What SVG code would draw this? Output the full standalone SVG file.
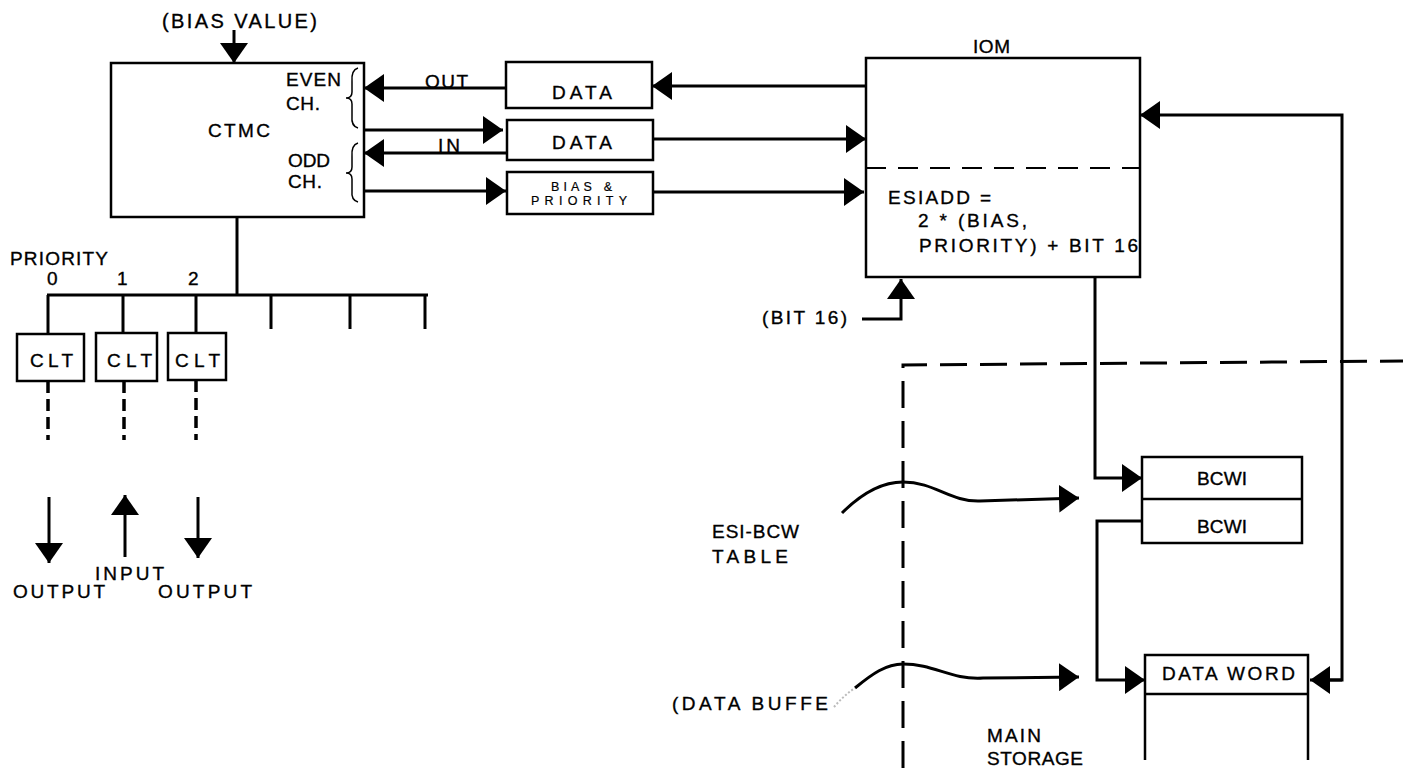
<svg xmlns="http://www.w3.org/2000/svg" width="1403" height="768" viewBox="0 0 1403 768">
<style>
.box{fill:none;stroke:#000;stroke-width:2.5}
.ln{fill:none;stroke:#000;stroke-width:3}
.thin{fill:none;stroke:#000;stroke-width:1.5}
.dash{fill:none;stroke:#000;stroke-width:3;stroke-dasharray:27 13}
.cdash{fill:none;stroke:#000;stroke-width:3.5;stroke-dasharray:12 6}
text{font-family:"Liberation Sans",Arial,sans-serif;font-size:19px;fill:#000;stroke:#000;stroke-width:0.35}
.sm{font-size:12.5px;stroke-width:0.2}
.big{font-size:20px}
</style>
<defs>
<marker id="ah" viewBox="0 0 20 28" refX="20" refY="14" markerWidth="20" markerHeight="28" markerUnits="userSpaceOnUse" orient="auto">
<path d="M0,0 L20,14 L0,28 Z" fill="#000"/>
</marker>
</defs>
<rect width="1403" height="768" fill="#fff"/>

<g id="ctmc">
<rect class="box" x="111" y="63" width="253" height="154"/>
<text x="208" y="137" textLength="62" lengthAdjust="spacing">CTMC</text>
<text x="286" y="86" textLength="55" lengthAdjust="spacing">EVEN</text>
<text x="286" y="110" textLength="34" lengthAdjust="spacing">CH.</text>
<text x="288" y="167" textLength="42" lengthAdjust="spacing">ODD</text>
<text x="288" y="188" textLength="34" lengthAdjust="spacing">CH.</text>
<path class="thin" d="M358,68 Q351,70 352,82 L352,92 Q352,98 346,98 Q352,98 352,104 L352,116 Q351,126 358,128"/>
<path class="thin" d="M358,143 Q351,145 352,157 L352,167 Q352,173 346,173 Q352,173 352,179 L352,191 Q351,200 358,202"/>
</g>

<g id="bias-value">
<text class="big" x="162" y="28" textLength="155" lengthAdjust="spacing">(BIAS VALUE)</text>
</g>

<g id="data-out">
<rect class="box" x="506" y="62" width="146" height="46"/>
<text x="552" y="99" textLength="60" lengthAdjust="spacing">DATA</text>
</g>
<g id="data-in">
<rect class="box" x="507" y="120" width="146" height="40"/>
<text x="552" y="149" textLength="60" lengthAdjust="spacing">DATA</text>
</g>
<g id="bias-priority">
<rect class="box" x="507" y="172" width="146" height="42"/>
<text class="sm" x="551" y="191" textLength="61" lengthAdjust="spacing">BIAS &amp;</text>
<text class="sm" x="531" y="205" textLength="96" lengthAdjust="spacing">PRIORITY</text>
</g>

<g id="iom">
<rect class="box" x="866" y="58" width="274" height="219"/>
<line x1="866" y1="168" x2="1140" y2="168" style="stroke:#000;stroke-width:2;stroke-dasharray:20 12"/>
<text x="973" y="53" textLength="37" lengthAdjust="spacing">IOM</text>
<text x="888" y="204" textLength="103" lengthAdjust="spacing">ESIADD =</text>
<text x="918" y="227" textLength="109" lengthAdjust="spacing">2 * (BIAS,</text>
<text x="919" y="252" textLength="219" lengthAdjust="spacing">PRIORITY) + BIT 16</text>
</g>

<g id="bit16">
<text x="762" y="324" textLength="85" lengthAdjust="spacing">(BIT 16)</text>
</g>

<g id="priority-labels">
<text x="10" y="265" textLength="98" lengthAdjust="spacing">PRIORITY</text>
<text x="47" y="285">0</text>
<text x="117" y="285">1</text>
<text x="188" y="285">2</text>
</g>

<g id="clt0">
<rect class="box" x="17" y="334" width="67" height="47"/>
<text x="30" y="367" textLength="43" lengthAdjust="spacing">CLT</text>
</g>
<g id="clt1">
<rect class="box" x="96" y="333" width="61" height="48"/>
<text x="107" y="367" textLength="45" lengthAdjust="spacing">CLT</text>
</g>
<g id="clt2">
<rect class="box" x="168" y="333" width="58" height="47"/>
<text x="175" y="367" textLength="45" lengthAdjust="spacing">CLT</text>
</g>

<g id="io-labels">
<text x="13" y="598" textLength="92" lengthAdjust="spacing">OUTPUT</text>
<text x="95" y="580" textLength="69" lengthAdjust="spacing">INPUT</text>
<text x="158" y="598" textLength="94" lengthAdjust="spacing">OUTPUT</text>
</g>

<g id="esi-bcw-table">
<text x="712" y="538" textLength="87" lengthAdjust="spacing">ESI-BCW</text>
<text x="712" y="563" textLength="76" lengthAdjust="spacing">TABLE</text>
</g>
<g id="data-buffer">
<text x="672" y="710" textLength="156" lengthAdjust="spacing">(DATA BUFFE</text>
</g>
<g id="main-storage">
<text x="987" y="742" textLength="54" lengthAdjust="spacing">MAIN</text>
<text x="987" y="765" textLength="96" lengthAdjust="spacing">STORAGE</text>
</g>

<g id="bcwi">
<rect class="box" x="1142" y="457" width="160" height="86"/>
<line class="box" x1="1142" y1="499" x2="1302" y2="499"/>
<text x="1197" y="485" textLength="50" lengthAdjust="spacing">BCWI</text>
<text x="1197" y="533" textLength="50" lengthAdjust="spacing">BCWI</text>
</g>

<g id="data-word">
<path class="box" d="M1145,760 L1145,655 L1308,655 L1308,760 M1145,694 L1308,694"/>
<text x="1162" y="680" textLength="133" lengthAdjust="spacing">DATA WORD</text>
</g>

<g id="connectors">
<line class="ln" x1="234" y1="30" x2="234" y2="63" marker-end="url(#ah)"/>
<line class="ln" x1="506" y1="88" x2="364" y2="88" marker-end="url(#ah)"/>
<text x="425" y="88" textLength="43" lengthAdjust="spacing">OUT</text>
<line class="ln" x1="364" y1="130" x2="503" y2="130" marker-end="url(#ah)"/>
<line class="ln" x1="507" y1="153" x2="364" y2="153" marker-end="url(#ah)"/>
<text x="438" y="152" textLength="22" lengthAdjust="spacing">IN</text>
<line class="ln" x1="364" y1="191" x2="506" y2="191" marker-end="url(#ah)"/>
<line class="ln" x1="866" y1="86" x2="652" y2="86" marker-end="url(#ah)"/>
<line class="ln" x1="653" y1="139" x2="866" y2="139" marker-end="url(#ah)"/>
<line class="ln" x1="653" y1="192" x2="864" y2="192" marker-end="url(#ah)"/>
<path class="ln" d="M862,319 L901,319 L901,279" marker-end="url(#ah)"/>
<path class="ln" d="M1328,680 L1342,680 L1342,115 L1140,115" marker-end="url(#ah)"/>
<path class="ln" d="M1342,680 L1310,680" marker-end="url(#ah)"/>
<path class="ln" d="M1095,277 L1095,478 L1142,478" marker-end="url(#ah)"/>
<path class="ln" d="M1142,521 L1097,521 L1097,680 L1145,680" marker-end="url(#ah)"/>
<path class="ln" d="M842,513 C860,495 880,482 903,482 C935,482 950,502 980,501 L1079,498" marker-end="url(#ah)"/>
<path class="ln" d="M855,688 C872,674 886,664 903,664 C935,664 950,680 983,678 L1079,677" marker-end="url(#ah)"/>
<path d="M834,707 C840,700 846,694 855,688" fill="none" stroke="#bbb" stroke-width="2" stroke-dasharray="2 2"/>
<path class="dash" d="M903,768 L903,365 L1403,361"/>
<line class="ln" x1="237" y1="217" x2="237" y2="295"/>
<path class="ln" d="M47,295 L428,295 M48,295 L48,334 M123,295 L123,333 M196,295 L196,333 M271,295 L271,329 M350,295 L350,329 M425,295 L425,329"/>
<path class="cdash" d="M48,381 L48,440 M124,381 L124,440 M196,380 L196,440"/>
<line class="ln" x1="49" y1="497" x2="49" y2="563" marker-end="url(#ah)"/>
<line class="ln" x1="125" y1="557" x2="125" y2="495" marker-end="url(#ah)"/>
<line class="ln" x1="198" y1="497" x2="198" y2="558" marker-end="url(#ah)"/>
</g>
</svg>
